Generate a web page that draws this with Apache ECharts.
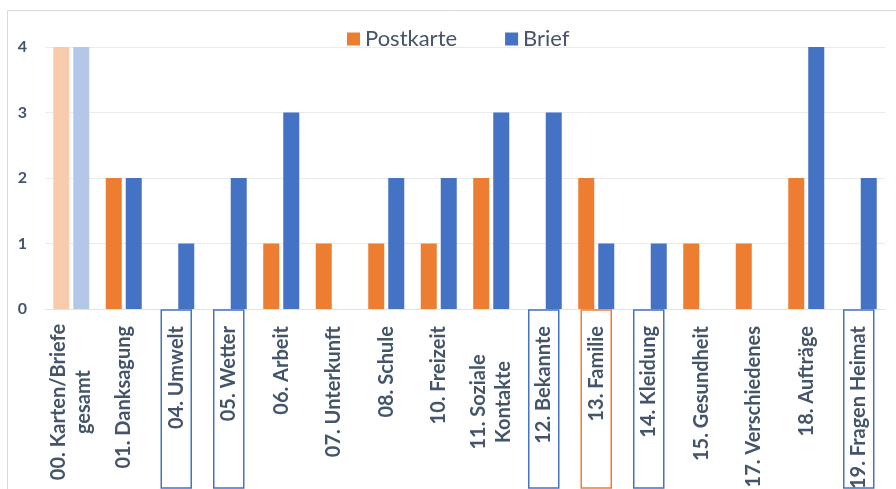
<!DOCTYPE html>
<html><head><meta charset="utf-8">
<script src="https://cdn.jsdelivr.net/npm/echarts@6/dist/echarts.min.js"></script>
<style>html,body{margin:0;padding:0;background:#fff}#c{width:896px;height:489px}</style>
</head><body><div id="c"></div>
<script>
const categories = ['00. Karten/Briefe\ngesamt','01. Danksagung','04. Umwelt','05. Wetter','06. Arbeit','07. Unterkunft','08. Schule','10. Freizeit','11. Soziale\nKontakte','12. Bekannte','13. Familie','14. Kleidung','15. Gesundheit','17. Verschiedenes','18. Aufträge','19. Fragen Heimat'];
const postkarte = [4,2,0,0,1,1,1,1,2,0,2,0,1,1,2,0];
const brief = [4,2,1,2,3,0,2,2,3,3,1,1,0,0,4,2];
const yTicks = [0,1,2,3,4];
const boxedBlue = ['04. Umwelt','05. Wetter','12. Bekannte','14. Kleidung','19. Fragen Heimat'];
const boxedOrange = ['13. Familie'];

const ORANGE='#ED7D31', BLUE='#4472C4', LORANGE='#F8CBAD', LBLUE='#B4C7E7', TXT='#44546A';
const chart = echarts.init(document.getElementById('c'));
const baseTok = {fontFamily:'Lato',fontWeight:'bold',fontSize:20,color:TXT};
chart.setOption({
  animation:false,
  graphic:[{type:'rect',left:5,top:8,shape:{width:900,height:500},style:{fill:'none',stroke:'#D9D9D9',lineWidth:1},silent:true,z:-1}],
  legend:{top:23,left:342,itemWidth:13,itemHeight:13,itemGap:48,icon:'rect',
    textStyle:{fontFamily:'Lato',fontSize:22,color:TXT,padding:[0,0,0,0]},data:['Postkarte','Brief']},
  grid:{left:45,right:11,top:47,bottom:180,containLabel:false,outerBoundsMode:'none'},
  xAxis:{type:'category',data:categories,
    axisLine:{lineStyle:{color:'#E3E3E3'}},axisTick:{show:false},
    axisLabel:{interval:0,rotate:90,margin:1,
      formatter:function(v){
        if(boxedBlue.indexOf(v)>=0) return '{bb|'+v+'}';
        if(boxedOrange.indexOf(v)>=0) return '{bo|'+v+'}';
        if(v.indexOf('\n')>=0) return v.split('\n').map(s=>'{c|'+s+'}').join('\n');
        return '{n|'+v+'}';
      },
      rich:{
        n:Object.assign({},baseTok,{padding:[0,16,0,0]}),
        c:Object.assign({},baseTok,{width:152,align:'center',lineHeight:25,padding:[0,16,0,0]}),
        bb:Object.assign({},baseTok,{width:162,align:'right',height:30,lineHeight:30,padding:[0,16,0,0],borderColor:BLUE,borderWidth:1.5}),
        bo:Object.assign({},baseTok,{width:162,align:'right',height:30,lineHeight:30,padding:[0,16,0,0],borderColor:ORANGE,borderWidth:1.5})
      }}},
  yAxis:{type:'value',min:yTicks[0],max:yTicks[yTicks.length-1],interval:1,
    axisLine:{show:false},axisTick:{show:false},
    splitLine:{lineStyle:{color:'#EBEBEB'}},
    axisLabel:{margin:18,fontFamily:'Lato',fontWeight:'bold',fontSize:16,color:TXT}},
  series:[
    {name:'Postkarte',type:'bar',barWidth:16,barGap:'25%',itemStyle:{color:ORANGE},
     data:postkarte.map((v,i)=>i===0?{value:v,itemStyle:{color:LORANGE}}:v)},
    {name:'Brief',type:'bar',barWidth:16,barGap:'25%',itemStyle:{color:BLUE},
     data:brief.map((v,i)=>i===0?{value:v,itemStyle:{color:LBLUE}}:v)}
  ]
});
</script></body></html>
